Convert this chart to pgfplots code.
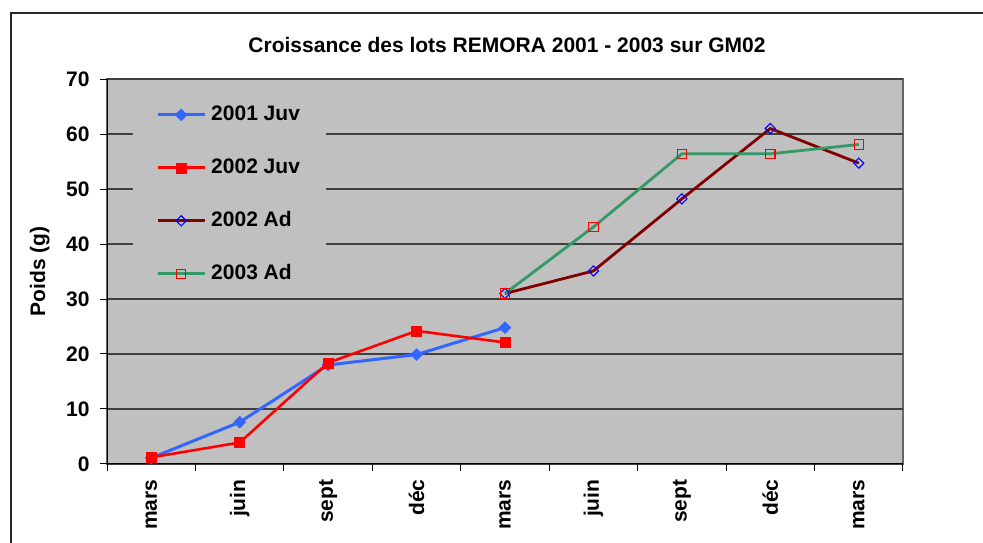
\documentclass[border=0pt]{standalone}
\usepackage{fontspec}
\setmainfont{Liberation Sans}
\usepackage{pgfplots}
\pgfplotsset{compat=1.18}
\definecolor{bgc}{HTML}{C0C0C0}
\definecolor{blueline}{HTML}{3366FF}
\definecolor{redline}{HTML}{FF0000}
\definecolor{darkredline}{HTML}{800000}
\definecolor{greenline}{HTML}{339966}
\definecolor{markblue}{HTML}{0000FF}
\newcommand{\bigf}{\fontsize{21}{25}\selectfont\bfseries}
\begin{document}
\begin{tikzpicture}
\path[use as bounding box] (0pt,0pt) rectangle (983pt,543pt);
\begin{scope}
\clip (0pt,0pt) rectangle (983pt,543pt);
\draw[line width=1.5pt, black!85] (11pt,-5pt) -- (11pt,530pt) -- (990pt,530pt);
\end{scope}
\node[font=\bigf, inner sep=0pt] at (507pt,498pt) {Croissance des lots REMORA 2001 - 2003 sur GM02};
\begin{axis}[
  at={(107pt,79pt)}, anchor=south west,
  width=796pt, height=385pt, scale only axis,
  xmin=-0.5, xmax=8.5, ymin=0, ymax=70,
  axis background/.style={fill=bgc, draw=gray!80!black, line width=1.2pt},
  axis lines=left,
  axis line style={-, black, line width=1pt},
  tick align=outside,
  major tick length=7pt,
  tick style={black, line width=1pt},
  ytick={0,10,...,70},
  ymajorgrids,
  major grid style={black!75, line width=1.2pt},
  xtick={-0.5,0.5,...,8.5},
  xticklabels={},
  extra x ticks={0,1,2,3,4,5,6,7,8},
  extra x tick labels={mars,juin,sept,déc,mars,juin,sept,déc,mars},
  extra x tick style={tick style={draw=none}},
  x tick label style={font=\bigf, rotate=90, anchor=east, xshift=-5pt},
  y tick label style={font=\bigf, xshift=-7pt},
  /pgf/number format/assume math mode=true,
  ylabel={Poids (g)},
  every axis y label/.style={at={(axis description cs:-0.0846,0.5)}, rotate=90, anchor=center, font=\bigf},
  legend cell align=left,
  legend style={at={(axis description cs:0.0327,0.966)}, anchor=north west,
    draw=none, fill=bgc, font=\bigf, row sep=28pt, column sep=2pt, inner xsep=23pt, inner ysep=10pt,
    nodes={inner sep=3pt, text height=15pt, text depth=4pt}},
  legend image code/.code={\draw[mark repeat=2, mark phase=2] plot coordinates {(0pt,0pt) (23.5pt,0pt) (47pt,0pt)};},
]
\addplot[blueline, line width=3pt, mark=square*, mark size=4.2pt, mark options={rotate=45, solid, line width=0.5pt, fill=blueline, draw=blueline}]
  coordinates {(0,1.1) (1,7.6) (2,18.0) (3,19.9) (4,24.8)};
\addlegendentry{2001 Juv}
\addplot[redline, line width=2.6pt, mark=square*, mark size=5pt, mark options={solid, line width=0.5pt, fill=redline, draw=redline}]
  coordinates {(0,1.2) (1,3.9) (2,18.4) (3,24.2) (4,22.1)};
\addlegendentry{2002 Juv}
\addplot[darkredline, line width=2.8pt, mark=square, mark size=3.6pt, mark options={rotate=45, solid, line width=1.1pt, draw=markblue}]
  coordinates {(4,31.0) (5,35.1) (6,48.2) (7,61.0) (8,54.7)};
\addlegendentry{2002 Ad}
\addplot[greenline, line width=2.8pt, mark=square, mark size=4.7pt, mark options={solid, line width=1.1pt, draw=redline}]
  coordinates {(4,31.0) (5,43.1) (6,56.4) (7,56.4) (8,58.1)};
\addlegendentry{2003 Ad}
\end{axis}
\end{tikzpicture}
\end{document}
